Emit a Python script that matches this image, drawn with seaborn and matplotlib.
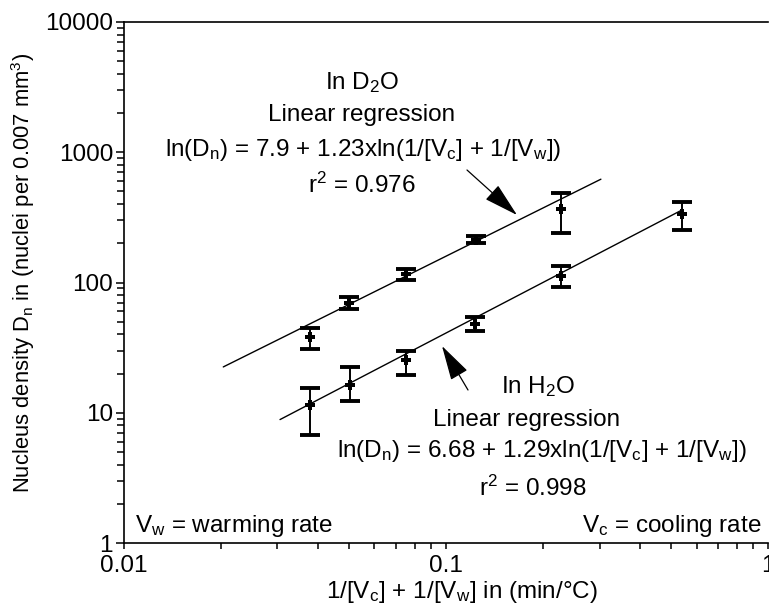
import numpy as np
import pandas as pd
import matplotlib
matplotlib.use("Agg")
import matplotlib.pyplot as plt
import seaborn as sns
from matplotlib.ticker import LogLocator, NullFormatter, FixedFormatter, FixedLocator

# ---- data ----
x_d2o = [0.038, 0.050, 0.0755, 0.124, 0.228]
y_d2o = [38, 70, 117, 212, 365]
lo_d2o = [31, 63, 105, 200, 242]
hi_d2o = [45, 77, 126, 226, 487]

x_h2o = [0.038, 0.0505, 0.0753, 0.1234, 0.228, 0.541]
y_h2o = [11.5, 16.4, 25.4, 47.7, 113, 334]
lo_h2o = [6.7, 12.4, 19.5, 42.3, 91.6, 255]
hi_h2o = [15.5, 22.4, 29.7, 54, 133, 414]

# regression: ln(Dn) = a + b*ln(x), over the drawn x range
reg_d2o = dict(a=7.9, b=1.23, x0=0.0204, x1=0.303)
reg_h2o = dict(a=6.68, b=1.29, x0=0.0306, x1=0.541)

xticks = [0.01, 0.1, 1]
xticklabels = ["0.01", "0.1", "1"]
yticks = [1, 10, 100, 1000, 10000]
yticklabels = ["1", "10", "100", "1000", "10000"]

# ---- style ----
sns.set_theme(style="ticks")
FONT = "Liberation Sans"
plt.rcParams["font.family"] = [FONT, "DejaVu Sans"]
plt.rcParams["mathtext.fontset"] = "custom"
plt.rcParams["mathtext.rm"] = FONT
plt.rcParams["mathtext.it"] = FONT
plt.rcParams["mathtext.bf"] = FONT + ":bold"
FS = 17.5

fig = plt.figure(figsize=(7.69, 6.08), dpi=100)
W, H = 769, 608
left, right, top, bottom = 123.5, 768, 22, 543
ax = fig.add_axes([left / W, (H - bottom) / H, (right - left) / W, (bottom - top) / H])

ax.set_xscale("log")
ax.set_yscale("log")
ax.set_xlim(0.01, 1)
ax.set_ylim(1, 10000)

# regression lines
for reg in (reg_d2o, reg_h2o):
    xs = np.geomspace(reg["x0"], reg["x1"], 50)
    ys = np.exp(reg["a"] + reg["b"] * np.log(xs))
    sns.lineplot(x=xs, y=ys, ax=ax, color="black", lw=1.0, sort=False)

# error bars
for xv, yv, lo, hi in ((x_d2o, y_d2o, lo_d2o, hi_d2o), (x_h2o, y_h2o, lo_h2o, hi_h2o)):
    yv = np.array(yv, float)
    err = np.vstack([yv - np.array(lo), np.array(hi) - yv])
    ax.errorbar(xv, yv, yerr=err, fmt="none", ecolor="black", elinewidth=1.4,
                capsize=7, capthick=2.8)

df = pd.DataFrame({"x": x_d2o + x_h2o, "y": y_d2o + y_h2o})
sns.scatterplot(data=df, x="x", y="y", ax=ax, marker="P", s=55, color="black",
                linewidth=0, zorder=5)

# axes styling
ax.spines["right"].set_visible(False)
for s in ("left", "bottom", "top"):
    ax.spines[s].set_linewidth(1.2)
    ax.spines[s].set_color("black")
ax.xaxis.set_major_locator(FixedLocator(xticks))
ax.xaxis.set_major_formatter(FixedFormatter(xticklabels))
ax.yaxis.set_major_locator(FixedLocator(yticks))
ax.yaxis.set_major_formatter(FixedFormatter(yticklabels))
ax.xaxis.set_minor_locator(LogLocator(base=10, subs=np.arange(2, 10)))
ax.yaxis.set_minor_locator(LogLocator(base=10, subs=np.arange(2, 10)))
ax.xaxis.set_minor_formatter(NullFormatter())
ax.yaxis.set_minor_formatter(NullFormatter())
ax.tick_params(which="both", direction="out", width=1.1, color="black",
               labelsize=FS, labelcolor="black", top=False, right=False)
ax.tick_params(axis="y", which="major", length=5.5, pad=2)
ax.tick_params(axis="y", which="minor", length=5.0)
ax.tick_params(axis="x", which="major", length=4.5, pad=4)
ax.tick_params(axis="x", which="minor", length=4.0)
ax.set_xlabel(r"1/[V$_\mathrm{c}$] + 1/[V$_\mathrm{w}$] in (min/°C)", fontsize=FS, color="black")
ax.xaxis.set_label_coords((462 - left) / (right - left), -0.07)
ax.set_ylabel("")
ax.grid(False)

def af(px, py):
    return ((px - left) / (right - left), (bottom - py) / (bottom - top))

# y axis title, centred on its reference position
ax.text(*af(23, 273), r"Nucleus density D$_\mathrm{n}$ in (nuclei per 0.007 mm$^3$)",
        transform=ax.transAxes, rotation=90, ha="center", va="center",
        rotation_mode="default", fontsize=15.8, color="black")

def put(px, py, s, ha="center"):
    ax.text(*af(px, py), s, transform=ax.transAxes, ha=ha, va="center",
            fontsize=FS, color="black")

# D2O annotation
put(362, 83, r"In D$_\mathrm{2}$O")
put(362, 115, "Linear regression")
put(363, 150, r"ln(D$_\mathrm{n}$) = 7.9 + 1.23xln(1/[V$_\mathrm{c}$] + 1/[V$_\mathrm{w}$])")
put(362, 185, r"r$^\mathrm{2}$ = 0.976")

# H2O annotation
put(538, 387, r"In H$_\mathrm{2}$O")
put(527, 420, "Linear regression")
put(542, 451, r"ln(D$_\mathrm{n}$) = 6.68 + 1.29xln(1/[V$_\mathrm{c}$] + 1/[V$_\mathrm{w}$])")
put(533, 488, r"r$^\mathrm{2}$ = 0.998")

put(135, 526, r"V$_\mathrm{w}$ = warming rate", ha="left")
put(761, 526, r"V$_\mathrm{c}$ = cooling rate", ha="right")

# arrows (tail -> tip)
arrow_kw = dict(arrowstyle="-|>,head_length=2.2,head_width=0.6", color="black",
                lw=0.9, mutation_scale=10, shrinkA=0, shrinkB=0)
ax.annotate("", xy=af(517, 215), xytext=af(467, 170), xycoords="axes fraction",
            textcoords="axes fraction", arrowprops=arrow_kw)
ax.annotate("", xy=af(442, 346), xytext=af(468, 390), xycoords="axes fraction",
            textcoords="axes fraction", arrowprops=arrow_kw)

fig.savefig("out.png", dpi=100)
